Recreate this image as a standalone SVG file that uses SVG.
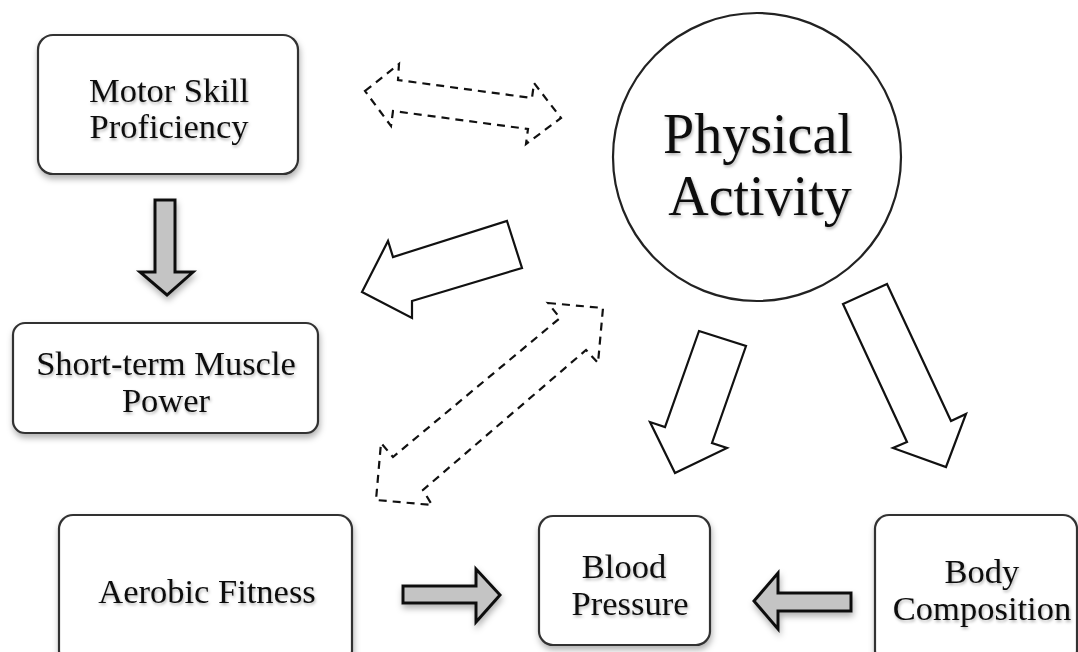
<svg xmlns="http://www.w3.org/2000/svg" width="1078" height="652" viewBox="0 0 1078 652">
<style>
.box{fill:#fff;stroke:#333;stroke-width:2.2;filter:url(#sh)}
.lbl{font-family:"Liberation Serif","Times New Roman",serif;font-size:34.5px;fill:#111;text-anchor:middle;filter:url(#tsh)}
.big{font-size:56px}
.gray{fill:#c4c4c4;stroke:#111;stroke-width:3;stroke-linejoin:miter;filter:url(#sh)}
.open{fill:#fff;stroke:#111;stroke-width:2.2;stroke-linejoin:miter}
.dash{fill:none;stroke:#111;stroke-width:2.2;stroke-dasharray:8 6}
</style>
<defs>
<filter id="sh" x="-20%" y="-20%" width="140%" height="150%">
<feDropShadow dx="1" dy="4" stdDeviation="3" flood-color="#000" flood-opacity="0.3"/>
</filter>
<filter id="tsh" x="-10%" y="-30%" width="120%" height="160%">
<feDropShadow dx="1" dy="2" stdDeviation="1.5" flood-color="#000" flood-opacity="0.3"/>
</filter>
</defs>
<rect width="1078" height="652" fill="#fff"/>
<g id="connectors">
<polygon class="dash" points="365,91 399,64 398,80 532,98 534,83 561,118 526,144 528,129 393,111 391,126"/>
<polygon class="gray" points="155,200 175,200 175,272 193,272 167,295 140,272 155,272"/>
<polygon class="open" points="507,221 522,268 412,301 412,318 362,292 388,241 393,257"/>
<polygon class="dash" points="548,303 603,308 598,363 586,350 423,490 432,505 376,500 381,443 393,457 560,318"/>
<polygon class="open" points="699,331 746,346 712,443 727,448 675,473 650,422 665,427"/>
<polygon class="open" points="887,284 843,304 907,442 893,448 946,467 966,414 951,421"/>
<polygon class="gray" points="403,586 476,586 476,569 500,595 476,622 476,603 403,603"/>
<polygon class="gray" points="851,593 778,593 778,573 754,601 778,629 778,611 851,611"/>
</g>
<g id="motor">
<rect class="box" x="38" y="35" width="260" height="139" rx="15"/>
<text class="lbl" x="169" y="102">Motor Skill</text>
<text class="lbl" x="169" y="138">Proficiency</text>
</g>
<g id="physical">
<circle cx="757" cy="157" r="144" fill="#fff" stroke="#222" stroke-width="2.2"/>
<text class="lbl big" x="758" y="153">Physical</text>
<text class="lbl big" x="760" y="215">Activity</text>
</g>
<g id="shortterm">
<rect class="box" x="13" y="323" width="305" height="110" rx="12"/>
<text class="lbl" x="166" y="375">Short-term Muscle</text>
<text class="lbl" x="166" y="412">Power</text>
</g>
<g id="aerobic">
<rect class="box" x="59" y="515" width="293" height="150" rx="14"/>
<text class="lbl" x="207" y="603">Aerobic Fitness</text>
</g>
<g id="blood">
<rect class="box" x="539" y="516" width="171" height="129" rx="14"/>
<text class="lbl" x="624" y="578">Blood</text>
<text class="lbl" x="630" y="615">Pressure</text>
</g>
<g id="body">
<rect class="box" x="875" y="515" width="202" height="150" rx="14"/>
<text class="lbl" x="982" y="583">Body</text>
<text class="lbl" x="982" y="620">Composition</text>
</g>
</svg>
